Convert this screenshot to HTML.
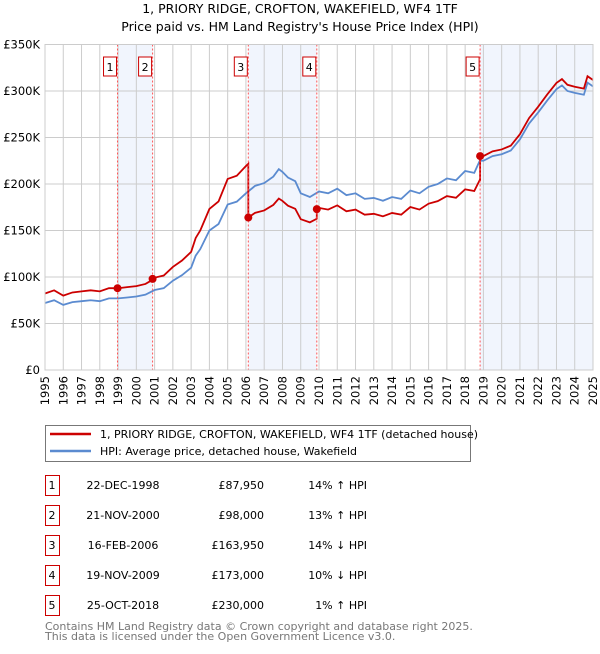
<!DOCTYPE html>
<html><head><meta charset="utf-8"><style>
body{margin:0;background:#fff;font-family:"DejaVu Sans","Liberation Sans",sans-serif;}
svg text{font-family:"DejaVu Sans","Liberation Sans",sans-serif;}
</style></head><body>
<svg id="c" width="600" height="650" xmlns="http://www.w3.org/2000/svg">
<text x="300" y="13" text-anchor="middle" font-size="12.5">1, PRIORY RIDGE, CROFTON, WAKEFIELD, WF4 1TF</text>
<text x="300" y="31" text-anchor="middle" font-size="12.5">Price paid vs. HM Land Registry's House Price Index (HPI)</text>
<g id="plot"></g>
<g>
<rect x="45.5" y="425.5" width="425" height="36" fill="#fff" stroke="#777"/>
<line x1="50" y1="434" x2="91" y2="434" stroke="#cc0000" stroke-width="2.5"/>
<text x="100" y="438" font-size="11">1, PRIORY RIDGE, CROFTON, WAKEFIELD, WF4 1TF (detached house)</text>
<line x1="50" y1="451" x2="91" y2="451" stroke="#5b8bd0" stroke-width="2.5"/>
<text x="100" y="455" font-size="11">HPI: Average price, detached house, Wakefield</text>
</g>
<g id="table" font-size="11"></g>
<text x="45" y="630" font-size="11" fill="#777">Contains HM Land Registry data © Crown copyright and database right 2025.</text>
<text x="45" y="640" font-size="11" fill="#777">This data is licensed under the Open Government Licence v3.0.</text>
</svg>
<script>
const hpiYears=[1995,1995.5,1996,1996.5,1997,1997.5,1998,1998.5,1999,1999.5,2000,2000.5,2001,2001.5,2002,2002.5,2003,2003.25,2003.5,2004,2004.5,2005,2005.5,2006,2006.5,2007,2007.5,2007.8,2008,2008.3,2008.7,2009,2009.5,2010,2010.5,2011,2011.5,2012,2012.5,2013,2013.5,2014,2014.5,2015,2015.5,2016,2016.5,2017,2017.5,2018,2018.5,2018.8,2019,2019.5,2020,2020.5,2021,2021.5,2022,2022.5,2023,2023.3,2023.6,2024,2024.5,2024.7,2025];
const hpiValues=[72,75,70,73,74,75,74,77,77,78,79,81,86,88,96,102,110,123,130,150,157,178,181,190,198,201,208,216,213,207,203,190,186,192,190,195,188,190,184,185,182,186,184,193,190,197,200,206,204,214,212,225,225,230,232,236,248,265,277,290,302,306,300,298,296,309,305];
const saleLabels=["1","2","3","4","5"];
const saleYears=[1998.97,2000.89,2006.13,2009.88,2018.82];
const salePrices=[87.95,98,163.95,173,230];
const saleDates=["22-DEC-1998","21-NOV-2000","16-FEB-2006","19-NOV-2009","25-OCT-2018"];
const salePriceText=["£87,950","£98,000","£163,950","£173,000","£230,000"];
const saleDiffText=["14% ↑ HPI","13% ↑ HPI","14% ↓ HPI","10% ↓ HPI","1% ↑ HPI"];
const yTicks=[0,50,100,150,200,250,300,350];
const yTickLabels=["£0","£50K","£100K","£150K","£200K","£250K","£300K","£350K"];
const xTicks=[1995,1996,1997,1998,1999,2000,2001,2002,2003,2004,2005,2006,2007,2008,2009,2010,2011,2012,2013,2014,2015,2016,2017,2018,2019,2020,2021,2022,2023,2024,2025];

const X0=45,X1=593,Y0=370,Y1=44.5;
const xs=y=>X0+(y-1995)/30*(X1-X0);
const ys=v=>Y0-v/350*(Y0-Y1);
const NS="http://www.w3.org/2000/svg";
const plot=document.getElementById('plot');
function mk(tag,attrs,parent){const e=document.createElementNS(NS,tag);for(const k in attrs)e.setAttribute(k,attrs[k]);(parent||plot).appendChild(e);return e;}
function hpiAt(t){for(let i=0;i<hpiYears.length-1;i++){if(t<=hpiYears[i+1]){const f=(t-hpiYears[i])/(hpiYears[i+1]-hpiYears[i]);return hpiValues[i]+f*(hpiValues[i+1]-hpiValues[i]);}}return hpiValues[hpiValues.length-1];}
const shades=[[0,1],[2,3],[4,null]];
shades.forEach((s,i)=>{const a=xs(saleYears[s[0]]);const b=s[1]===null?X1:xs(saleYears[s[1]]);
const r=mk('rect',{x:a,y:Y1,width:b-a,height:Y0-Y1,fill:'#eef3fc',opacity:'0.8'});

});
xTicks.forEach((t,i)=>{const l=mk('line',{x1:xs(t),x2:xs(t),y1:Y1,y2:Y0,stroke:'#ccc','stroke-width':1});


const px=xs(t)+4,py=Y0+6;
const tx=mk('text',{x:px,y:py,'font-size':11.5,'text-anchor':'end',transform:'rotate(-90 '+px+' '+py+')'});tx.textContent=t;

});
yTicks.forEach((v,i)=>{const l=mk('line',{x1:X0,x2:X1,y1:ys(v),y2:ys(v),stroke:'#ccc','stroke-width':1});


const tx=mk('text',{x:X0-5,y:ys(v)+4,'font-size':11.5,'text-anchor':'end'});tx.textContent=yTickLabels[i];

});
let pts=hpiYears.map((t,i)=>xs(t)+','+ys(hpiValues[i])).join(' ');
const hl=mk('polyline',{points:pts,fill:'none',stroke:'#5b8bd0','stroke-width':1.8});


let rp=[];
const segFactor=t=>{let k=0;for(let i=0;i<saleYears.length;i++){if(t>=saleYears[i])k=i;}return salePrices[k]/hpiAt(saleYears[k]);};
let times=hpiYears.slice();saleYears.forEach(s=>{times.push(s-0.001);times.push(s);});times.sort((a,b)=>a-b);
times.forEach(t=>{rp.push(xs(t)+','+ys(hpiAt(t)*segFactor(t)));});
const pl=mk('polyline',{points:rp.join(' '),fill:'none',stroke:'#cc0000','stroke-width':1.8});


saleYears.forEach((t,i)=>{const x=xs(t);
const l=mk('line',{x1:x,x2:x,y1:Y1,y2:Y0,stroke:'#ff5555','stroke-width':1,'stroke-dasharray':'2,2'});


const b=mk('rect',{x:x-14,y:57,width:13,height:19,fill:'#fff',stroke:'#cc0000'});


const tx=mk('text',{x:x-7.5,y:71,'font-size':11,'text-anchor':'middle'});tx.textContent=saleLabels[i];


const c=mk('circle',{cx:x,cy:ys(salePrices[i]),r:4,fill:'#cc0000'});

});
const fr=mk('rect',{x:X0,y:Y1,width:X1-X0,height:Y0-Y1,fill:'none',stroke:'#ccc'});


const tb=document.getElementById('table');
saleLabels.forEach((s,i)=>{const y=475+i*30;
const r=mk('rect',{x:45.5,y:y+0.5,width:14,height:20,fill:'#fff',stroke:'#cc0000'},tb);


const vals=[[52,'middle',s],[123,'middle',saleDates[i]],[264,'end',salePriceText[i]],[367,'end',saleDiffText[i]]];
vals.forEach(v=>{const t=mk('text',{x:v[0],y:y+14,'text-anchor':v[1]},tb);t.textContent=v[2];

});});
</script>
</body></html>
